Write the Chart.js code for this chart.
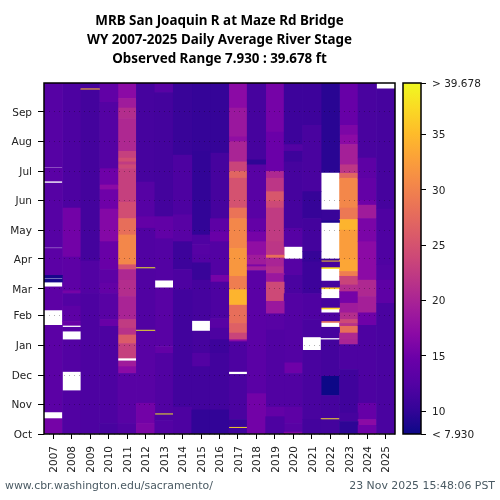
<!DOCTYPE html>
<html><head><meta charset="utf-8">
<style>
html,body{margin:0;padding:0;background:#fff;width:500px;height:500px;overflow:hidden}
#main{position:absolute;left:0;top:0}
#bar{position:absolute;left:395px;top:0}
.foot{position:absolute;top:479px;font:10.9px "DejaVu Sans";color:#4a5a63;white-space:nowrap}
</style>
<script src="https://cdn.jsdelivr.net/npm/chart.js@4"></script>
</head><body>
<canvas id="main" width="500" height="500"></canvas>
<canvas id="bar" width="105" height="500"></canvas>
<div class="foot" style="left:5px">www.cbr.washington.edu/sacramento/</div>
<div class="foot" style="right:5px">23 Nov 2025 15:48:06 PST</div>
<script>
const titleLines=["MRB San Joaquin R at Maze Rd Bridge","WY 2007-2025 Daily Average River Stage","Observed Range 7.930 : 39.678 ft"];
const years=["2007","2008","2009","2010","2011","2012","2013","2014","2015","2016","2017","2018","2019","2020","2021","2022","2023","2024","2025"];
const monthNames=["Oct","Nov","Dec","Jan","Feb","Mar","Apr","May","Jun","Jul","Aug","Sep"];
const monthStarts=[0,31,61,92,123,151,182,212,243,273,304,335];
const stageMin=7.93, stageMax=39.678;
const colorbarTicks=[7.93,10,15,20,25,30,35,39.678];
// each run: [first day of water year, last day, stage ft]; gaps are missing data
const wy2007=[[0,16,15.5],[23,113,13.3],[129,153,13.5],[158,161,8.5],[162,165,8.5],[165,193,13.3],[194,261,12.8],[263,277,13.2],[278,365,12.8]];
const wy2008=[[0,45,12.3],[65,98,12.5],[107,111,13],[113,117,14.5],[117,133,13.5],[133,146,12.5],[146,149,15.5],[149,184,13.5],[184,235,15.3],[235,365,12]];
const wy2009=[[0,146,12],[146,180,12.4],[180,358,11.3],[358,359,35],[359,365,11.5]];
const wy2010=[[0,11,11.6],[11,112,12],[112,119,14.5],[119,146,13],[146,157,14],[157,171,13.5],[171,200,14.5],[200,234,16.5],[234,254,15],[254,259,17],[259,276,15],[276,345,12.6],[345,365,13.8]];
const wy2011=[[0,11,12.3],[11,63,13],[63,70,17],[70,76,19],[79,94,23],[94,103,26],[103,110,21.5],[110,119,22.5],[119,143,20],[143,160,21],[160,171,20.5],[171,176,25],[176,207,30.5],[207,224,28],[224,241,24.5],[241,276,23],[276,280,24],[280,283,22.5],[283,287,24.5],[287,294,23],[294,328,20.5],[328,339,21],[339,349,19],[349,365,17]];
const wy2012=[[0,11,16],[11,32,15.3],[32,107,13],[107,108,39],[108,172,12.3],[172,173,39],[173,214,12.3],[214,226,14],[226,262,12.8],[262,365,11.5]];
const wy2013=[[0,14,12.5],[14,20,12],[20,21,39],[21,84,12.3],[84,91,14],[91,152,13],[160,203,12.5],[203,226,13.8],[226,355,11.3],[355,365,13]];
const wy2014=[[0,28,12],[28,150,11.2],[150,171,12],[171,200,10.8],[200,228,13],[228,290,12],[290,365,10.5]];
const wy2015=[[0,25,10],[25,70,11.2],[70,84,12.5],[84,107,11.5],[118,160,11.5],[160,178,10.5],[178,186,12.5],[186,197,12.8],[197,207,12.2],[207,294,10],[294,365,10.2]];
const wy2016=[[0,25,10],[25,84,11.2],[84,98,10.8],[98,110,12],[110,120,13],[120,158,12],[158,165,15.5],[165,200,12.5],[200,210,14.5],[210,224,13.5],[224,292,11.5],[292,365,10.2]];
const wy2017=[[0,6,11],[6,7,37],[7,15,10.5],[15,62,11.8],[65,96,12],[96,98,17],[98,105,23.5],[105,115,26.5],[115,134,28],[134,150,34.5],[150,164,29.5],[164,193,32],[193,224,30.5],[224,235,28.5],[235,266,25],[266,273,27],[273,283,23.5],[283,304,20],[304,309,17.5],[309,339,18.5],[339,365,17]];
const wy2018=[[0,42,15.3],[42,170,13.2],[170,174,19.5],[174,176,16],[176,186,19],[186,200,17.5],[200,210,15.5],[210,224,14],[224,280,13],[280,285,9.8],[285,365,11.5]];
const wy2019=[[0,18,12],[18,28,14],[28,108,12.3],[108,125,13],[125,138,18.5],[138,158,24],[158,167,18.5],[167,174,21],[174,183,20],[183,186,28],[186,200,22],[200,235,22.5],[235,242,24],[242,252,25.5],[252,266,22],[266,273,20.5],[273,314,14.7],[314,365,15.5]];
const wy2020=[[0,2,16],[2,11,13],[11,28,13.5],[28,63,12.3],[63,74,15],[74,146,12.5],[146,165,11.8],[165,182,12.8],[195,214,12.8],[214,283,11.5],[283,294,10.8],[294,301,12.5],[301,365,10.8]];
const wy2021=[[0,15,11.3],[15,87,11.7],[101,119,11.8],[119,146,12.2],[146,179,10.8],[179,190,10.3],[190,224,11.3],[224,252,10.3],[252,321,11.7],[321,365,10.8]];
const wy2022=[[0,15,11.3],[15,16,38],[16,40,11.5],[40,60,7.93],[60,98,11.3],[100,111,11.5],[116,117,28],[117,126,12],[130,131,37],[131,141,11.5],[151,152,36],[152,159,11.5],[172,173,38],[173,179,11.5],[179,180,37],[180,182,10.8],[220,222,9],[222,233,10.5],[272,365,9.5]];
const wy2023=[[0,13,9.8],[13,22,11.5],[22,67,11],[67,93,12],[93,98,20],[98,105,20.5],[105,112,28],[112,115,21.5],[115,119,24],[119,126,21],[126,136,19],[136,148,15.5],[148,155,21],[155,164,23.5],[164,169,29.5],[169,181,33.3],[181,212,32.5],[212,223,34.5],[223,235,29],[235,266,30.5],[266,271,27],[271,280,22],[280,301,19.5],[301,311,17],[311,321,16],[321,365,14.4]];
const wy2024=[[0,9,15],[9,15,17],[15,32,14.2],[32,113,12],[113,126,15],[126,143,19.5],[143,160,20.5],[160,200,17],[200,224,15.8],[224,238,19],[238,243,15],[243,266,14],[266,287,13.5],[287,365,11.7]];
const wy2025=[[0,136,11.8],[136,160,13.5],[160,176,12.5],[176,234,12.2],[234,359,11.5]];
const runsByYear=[wy2007,wy2008,wy2009,wy2010,wy2011,wy2012,wy2013,wy2014,wy2015,wy2016,wy2017,wy2018,wy2019,wy2020,wy2021,wy2022,wy2023,wy2024,wy2025];

// matplotlib plasma colormap anchors
const plasma=["#0d0887","#350498","#5302a3","#6a00a8","#8b0aa5","#a21d9a","#b83289","#cc4778","#db5c68","#e97158","#f48849","#fba139","#febc2a","#fada24","#f0f921"];
function hexRGB(h){return [1,3,5].map(i=>parseInt(h.slice(i,i+2),16));}
function stageColor(v){
  const t=Math.max(0,Math.min(1,(v-stageMin)/(stageMax-stageMin)))*(plasma.length-1);
  const i=Math.min(plasma.length-2,Math.floor(t)),f=t-i;
  const a=hexRGB(plasma[i]),b=hexRGB(plasma[i+1]);
  return "rgb("+a.map((c,k)=>Math.round(c+(b[k]-c)*f)).join(",")+")";
}
const frame={id:"frame",afterDraw(c){const a=c.chartArea,x=c.ctx;x.save();x.strokeStyle="#000";x.lineWidth=1.5;x.strokeRect(a.left,a.top,a.right-a.left,a.bottom-a.top);x.restore();}};
const tickFont={family:"DejaVu Sans",size:10.5};
const maxRuns=Math.max(...runsByYear.map(r=>r.length));
const datasets=[];
for(let i=0;i<maxRuns;i++){
  datasets.push({
    data:runsByYear.map(r=>r[i]?[r[i][0],r[i][1]]:null),
    backgroundColor:runsByYear.map(r=>r[i]?stageColor(r[i][2]):"rgba(0,0,0,0)"),
    borderWidth:0,barPercentage:1,categoryPercentage:1
  });
}
new Chart(document.getElementById("main"),{
  type:"bar",
  data:{labels:years,datasets},
  plugins:[frame],
  options:{
    responsive:false,animation:false,
    layout:{padding:{right:105}},
    plugins:{legend:{display:false},tooltip:{enabled:false},
      title:{display:true,text:titleLines,fullSize:false,color:"#000",
        font:{family:"Noto Sans",size:13.4,weight:"bold",lineHeight:19/13.4},
        padding:{top:12,bottom:14}}},
    scales:{
      x:{stacked:true,afterFit(s){s.height=66;s.paddingLeft=0;s.paddingRight=0;},
        grid:{drawOnChartArea:false,offset:false,tickColor:"#000",tickLength:5},
        border:{display:false},
        ticks:{font:tickFont,color:"#222",minRotation:90,maxRotation:90,autoSkip:false,padding:7,labelOffset:1}},
      y:{min:0,max:365,stacked:false,afterFit(s){s.width=44;},
        afterBuildTicks(s){s.ticks=monthStarts.map(v=>({value:v}));},
        grid:{z:1,color:"rgba(0,0,0,0.3)",tickColor:"#000",tickBorderDash:[],tickLength:6,drawTicks:true},
        border:{display:false,dash:[1,4]},
        ticks:{font:tickFont,color:"#222",padding:6,autoSkip:false,labelOffset:1,callback(v){return monthNames[monthStarts.indexOf(v)];}}}
    }
  }
});
new Chart(document.getElementById("bar"),{
  type:"bar",
  data:{labels:[""],datasets:[{data:[[stageMin,stageMax]],borderWidth:0,barPercentage:1,categoryPercentage:1,
    backgroundColor(ctx){const a=ctx.chart.chartArea;if(!a)return "#000";
      const g=ctx.chart.ctx.createLinearGradient(0,a.bottom,0,a.top);
      plasma.forEach((c,i)=>g.addColorStop(i/(plasma.length-1),c));return g;}}]},
  plugins:[frame],
  options:{
    responsive:false,animation:false,
    layout:{padding:{left:8,top:83,bottom:66,right:0}},
    plugins:{legend:{display:false},tooltip:{enabled:false}},
    scales:{
      x:{display:false},
      y:{position:"right",min:stageMin,max:stageMax,afterFit(s){s.width=79;},
        afterBuildTicks(s){s.ticks=colorbarTicks.map(v=>({value:v}));},
        grid:{drawOnChartArea:false,tickColor:"#000",tickLength:5},
        border:{display:false},
        ticks:{font:tickFont,color:"#222",padding:6,autoSkip:false,labelOffset:1,
          callback(v){return v===stageMax?"> 39.678":v===stageMin?"< 7.930":String(v);}}}
    }
  }
});
</script>
</body></html>
